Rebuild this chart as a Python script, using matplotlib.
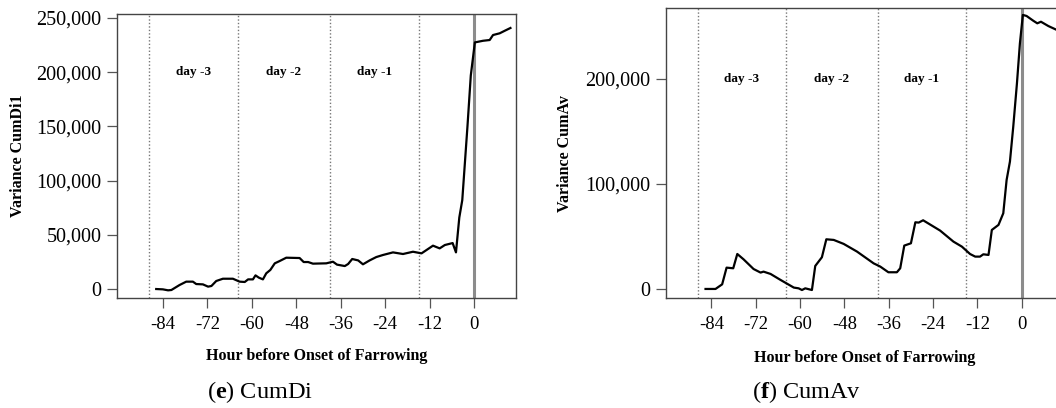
import matplotlib
matplotlib.use("Agg")
import matplotlib.pyplot as plt

# ---- data ----
cumdi_hours = [-85.8, -84.0, -82.6, -81.7, -79.5, -77.7, -75.9, -75.0, -73.2, -71.8,
               -70.9, -69.6, -67.8, -65.1, -63.3, -61.9, -61.0, -59.7, -59.0, -58.1,
               -57.0, -56.1, -55.0, -53.8, -52.5, -50.7, -47.1, -46.0, -44.8, -43.5,
               -39.9, -38.1, -37.0, -34.9, -34.0, -32.9, -31.3, -30.0, -28.2, -26.4,
               -24.6, -21.9, -19.2, -16.5, -14.2, -11.1, -9.3, -7.9, -5.8, -4.9,
               -4.0, -3.2, -1.8, -0.9, 0.2, 2.4, 4.2, 5.1, 6.9, 8.3, 9.8]
cumdi_values = [0, -300, -1200, -900, 3700, 6800, 6800, 4600, 4300, 2200,
                2800, 7400, 9500, 9500, 6800, 6500, 8900, 8900, 12600, 10500,
                8900, 14500, 17600, 23700, 25800, 28900, 28600, 24900, 24900, 23400,
                23700, 25200, 22500, 21200, 23100, 27700, 26400, 22800, 26400, 29500,
                31400, 33800, 32300, 34400, 32900, 40000, 37500, 40600, 42400, 33800,
                66000, 82000, 150000, 197000, 227500, 229000, 229700, 234300, 235900, 238300, 240800]

cumav_hours = [-85.6, -82.9, -81.1, -79.9, -78.1, -77.0, -75.3, -72.6, -70.7, -69.9,
               -68.0, -65.3, -61.7, -60.4, -59.5, -58.6, -56.8, -55.9, -54.1, -52.9,
               -50.9, -48.2, -44.6, -40.1, -38.3, -36.1, -33.8, -32.9, -31.8, -30.0,
               -28.8, -27.9, -26.7, -22.1, -18.5, -16.2, -14.0, -12.6, -11.3, -10.4,
               -9.0, -8.1, -6.3, -5.0, -4.1, -3.2, -2.3, -1.3, -0.5, 0.3,
               1.3, 3.1, 4.2, 5.2, 7.2, 9.3, 11.0]
cumav_values = [0, 0, 4400, 20300, 19700, 33300, 28200, 19000, 15600, 16500,
                14300, 8600, 1300, 600, -1000, 600, -1000, 21900, 30200, 47300,
                46700, 42900, 35600, 24400, 21300, 15900, 15900, 19700, 41300, 43500,
                63500, 63200, 65400, 55600, 45100, 40300, 33300, 30800, 30800, 33000,
                32400, 56200, 61000, 72100, 103800, 121300, 154600, 195900, 233900, 261000,
                260000, 255500, 253000, 254500, 250400, 247000, 244000]

day_bounds = [-87.7, -63.8, -39.0, -15.0]
day_labels = ["day -3", "day -2", "day -1"]
x_ticks = [-84, -72, -60, -48, -36, -24, -12, 0]
left_yticks = [0, 50000, 100000, 150000, 200000, 250000]
right_yticks = [0, 100000, 200000]

SERIF = ["Liberation Serif", "DejaVu Serif"]
plt.rcParams["font.family"] = SERIF
plt.rcParams["mathtext.fontset"] = "custom"
plt.rcParams["mathtext.rm"] = "Liberation Serif"
plt.rcParams["mathtext.bf"] = "Liberation Serif:bold"
plt.rcParams["mathtext.it"] = "Liberation Serif:italic"

fig = plt.figure(figsize=(10.56, 4.08), dpi=100)
W, H = 1056.0, 408.0

def make_axes(l, r, t, b):
    return fig.add_axes([l / W, (H - b) / H, (r - l) / W, (b - t) / H])

axL = make_axes(117.3, 516.0, 14.0, 297.7)
axR = make_axes(666.0, 1063.5, 8.3, 298.3)

def style(ax, hours, vals, yticks, ylim, ylabel, ylab_x):
    ax.plot(hours, vals, color="black", lw=1.6, zorder=3)
    for b in day_bounds:
        ax.axvline(b, color="#777777", lw=1.0, ls=(0, (1, 1.5)), zorder=1)
    ax.axvline(0, color="#8c8c8c", lw=2.2, zorder=2)
    ax.set_xlim(-96.3, 11.3)
    ax.set_ylim(*ylim)
    for i, lab in enumerate(day_labels):
        xm = (day_bounds[i] + day_bounds[i + 1]) / 2
        ax.text(xm, 200000, lab, ha="center", va="center", fontsize=9.5,
                fontweight="bold", family=SERIF)
    ax.set_xticks(x_ticks)
    ax.set_xticklabels([str(v) for v in x_ticks])
    ax.set_yticks(yticks)
    ax.set_yticklabels([f"{v:,}" for v in yticks])
    ax.tick_params(axis="x", labelsize=13.5, length=7, width=0.9, color="#555555", pad=6)
    ax.tick_params(axis="y", labelsize=14.5, length=7.5, width=0.9, color="#555555", pad=4)
    for s in ax.spines.values():
        s.set_color("#444444")
        s.set_linewidth(1.0)
    ax.set_xlabel("Hour before Onset of Farrowing", fontsize=11.5, fontweight="bold")
    ax.xaxis.label.set_va("center")
    ax.xaxis.set_label_coords(0.5, -0.205)
    ax.set_ylabel(ylabel, fontsize=11.5, fontweight="bold")
    ax.yaxis.label.set_va("center")
    ax.yaxis.set_label_coords(ylab_x, 0.5)

style(axL, cumdi_hours, cumdi_values, left_yticks, (-8000, 253700), "Variance CumDi1", -0.250)
style(axR, cumav_hours, cumav_values, right_yticks, (-8900, 267300), "Variance CumAv", -0.254)

fig.text(260 / W, 1 - 392 / H, r"($\mathbf{e}$) CumDi", ha="center", va="center",
         fontsize=17.5, family=SERIF)
fig.text(806.7 / W, 1 - 392 / H, r"($\mathbf{f}$) CumAv", ha="center", va="center",
         fontsize=17.5, family=SERIF)

fig.savefig("out.png", dpi=100)
